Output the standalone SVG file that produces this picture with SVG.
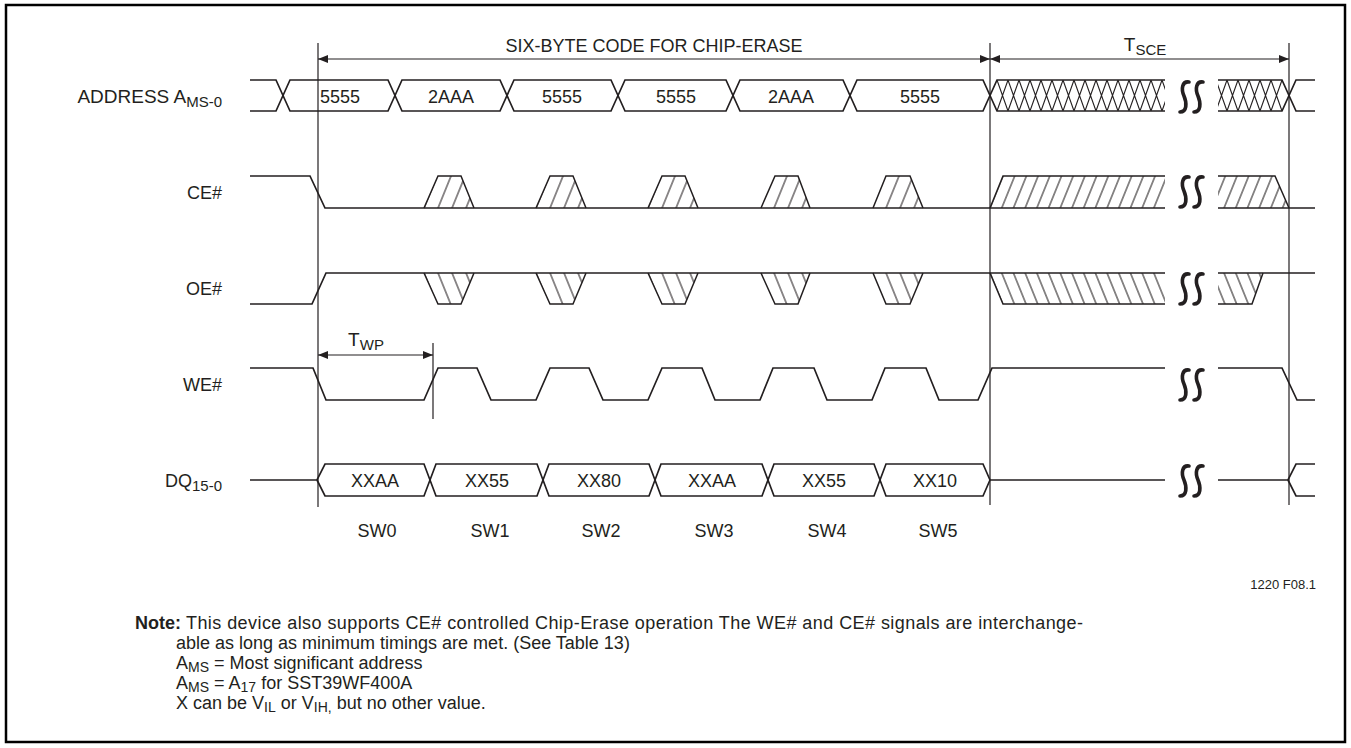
<svg xmlns="http://www.w3.org/2000/svg" width="1351" height="748" viewBox="0 0 1351 748">
<style>
text{font-family:"Liberation Sans",Arial,Helvetica,sans-serif;fill:#231f20}
.lbl{font-size:18px}
.sig{fill:none;stroke:#231f20;stroke-width:1.7;stroke-linejoin:miter}
.edge{fill:none;stroke:#231f20;stroke-width:1.5}
.vl{fill:none;stroke:#231f20;stroke-width:1.2}
.sq{fill:none;stroke:#231f20;stroke-width:3.6;stroke-linecap:round}
.note{font-size:18px}
</style>
<defs>
<marker id="ah" viewBox="0 0 10 8" refX="10" refY="4" markerWidth="10" markerHeight="8" markerUnits="userSpaceOnUse" orient="auto-start-reverse">
<path d="M0,0 L10,4 L0,8 Z" fill="#231f20"/>
</marker>
<pattern id="xh" patternUnits="userSpaceOnUse" x="997" y="80" width="11" height="31">
<path d="M0,0 L11,31 M0,31 L11,0" stroke="#231f20" stroke-width="1.1" fill="none"/>
</pattern>
<pattern id="xh2" patternUnits="userSpaceOnUse" x="1216" y="80" width="11" height="31">
<path d="M0,0 L11,31 M0,31 L11,0" stroke="#231f20" stroke-width="1.1" fill="none"/>
</pattern>
<pattern id="ceS" patternUnits="userSpaceOnUse" x="11.5" y="0" width="14" height="20" patternTransform="skewX(-22.1)">
<path d="M7,-1 V21" stroke="#231f20" stroke-width="1.1"/>
</pattern>
<pattern id="ceL" patternUnits="userSpaceOnUse" x="3.95" y="0" width="11.7" height="20" patternTransform="skewX(-22.1)">
<path d="M5.85,-1 V21" stroke="#231f20" stroke-width="1.1"/>
</pattern>
<pattern id="oeS" patternUnits="userSpaceOnUse" x="12.2" y="0" width="14" height="20" patternTransform="skewX(22.1)">
<path d="M7,-1 V21" stroke="#231f20" stroke-width="1.1"/>
</pattern>
<pattern id="oeL" patternUnits="userSpaceOnUse" x="7.55" y="0" width="11.7" height="20" patternTransform="skewX(22.1)">
<path d="M5.85,-1 V21" stroke="#231f20" stroke-width="1.1"/>
</pattern>
<g id="brk">
<path class="sq" d="M10,1 C3,0 2,8 5,15 C8,22 8,31 1,31"/>
<path class="sq" d="M24,1 C17,0 16,8 19,15 C22,22 22,31 15,31"/>
</g>
</defs>
<rect x="0" y="0" width="1351" height="748" fill="#fff"/>
<rect x="6" y="5" width="1339" height="737" fill="none" stroke="#000" stroke-width="2.5"/>

<g id="connectors">
<line class="vl" x1="318" y1="43" x2="318" y2="507"/>
<line class="vl" x1="990" y1="43" x2="990" y2="505"/>
<line class="vl" x1="1289" y1="43" x2="1289" y2="505"/>
<line class="vl" x1="433" y1="343" x2="433" y2="419"/>
<line class="vl" x1="318" y1="59" x2="990" y2="59" marker-start="url(#ah)" marker-end="url(#ah)"/>
<line class="vl" x1="990" y1="59" x2="1289" y2="59" marker-start="url(#ah)" marker-end="url(#ah)"/>
<line class="vl" x1="318" y1="355" x2="433" y2="355" marker-start="url(#ah)" marker-end="url(#ah)"/>
</g>

<g id="timing-labels">
<text class="lbl" x="654" y="52" text-anchor="middle">SIX-BYTE CODE FOR CHIP-ERASE</text>
<text x="1145" y="51" text-anchor="middle" font-size="19">T<tspan font-size="15" dy="4">SCE</tspan></text>
<text x="366" y="346" text-anchor="middle" font-size="19">T<tspan font-size="15" dy="4">WP</tspan></text>
</g>

<g id="address">
<text x="222" y="103" text-anchor="end" font-size="19">ADDRESS A<tspan font-size="15" dy="4">MS-0</tspan></text>
<path class="sig" d="M250,80 L276,80 L290,111 L388,111 L402,80 L500,80 L514,111 L611,111 L625,80 L726,80 L740,111 L843,111 L857,80 L983,80 L997,111 L1165,111"/>
<path class="sig" d="M250,111 L276,111 L290,80 L388,80 L402,111 L500,111 L514,80 L611,80 L625,111 L726,111 L740,80 L843,80 L857,111 L983,111 L997,80 L1165,80"/>
<rect x="997" y="80" width="168" height="31" fill="url(#xh)"/>
<path class="sig" d="M1218,80 L1282,80 L1296,111 L1315,111 M1218,111 L1282,111 L1296,80 L1315,80"/>
<rect x="1218" y="80" width="64" height="31" fill="url(#xh2)"/>
<use href="#brk" x="1179" y="81"/>
<text class="lbl" x="320" y="103">5555</text>
<text class="lbl" x="451" y="103" text-anchor="middle">2AAA</text>
<text class="lbl" x="562" y="103" text-anchor="middle">5555</text>
<text class="lbl" x="676" y="103" text-anchor="middle">5555</text>
<text class="lbl" x="791" y="103" text-anchor="middle">2AAA</text>
<text class="lbl" x="920" y="103" text-anchor="middle">5555</text>
</g>

<g id="ce">
<text class="lbl" x="222" y="199" text-anchor="end">CE#</text>
<polygon points="424,208 438,176 461,176 474,208" fill="url(#ceS)"/>
<polygon points="536,208 550,176 573,176 586,208" fill="url(#ceS)"/>
<polygon points="648,208 662,176 685,176 698,208" fill="url(#ceS)"/>
<polygon points="761,208 775,176 798,176 810,208" fill="url(#ceS)"/>
<polygon points="873,208 886,176 910,176 923,208" fill="url(#ceS)"/>
<polygon points="990,208 1003,176 1165,176 1165,208" fill="url(#ceL)"/>
<polygon points="1218,208 1218,176 1275,176 1289,208" fill="url(#ceL)"/>
<path class="sig" d="M250,176 L310,176 L325,208 L1165,208 M1218,208 L1315,208"/>
<path class="edge" d="M424,208 L438,176 L461,176 L474,208 M536,208 L550,176 L573,176 L586,208 M648,208 L662,176 L685,176 L698,208 M761,208 L775,176 L798,176 L810,208 M873,208 L886,176 L910,176 L923,208 M990,208 L1003,176 L1165,176 M1218,176 L1275,176 L1289,208"/>
<use href="#brk" x="1179" y="176"/>
</g>

<g id="oe">
<text class="lbl" x="222" y="295" text-anchor="end">OE#</text>
<polygon points="424,273 438,304 461,304 474,273" fill="url(#oeS)"/>
<polygon points="536,273 550,304 573,304 586,273" fill="url(#oeS)"/>
<polygon points="648,273 662,304 685,304 698,273" fill="url(#oeS)"/>
<polygon points="761,273 775,304 798,304 810,273" fill="url(#oeS)"/>
<polygon points="873,273 886,304 910,304 923,273" fill="url(#oeS)"/>
<polygon points="990,273 1165,273 1165,304 1003,304" fill="url(#oeL)"/>
<polygon points="1218,273 1263,273 1252,304 1218,304" fill="url(#oeL)"/>
<path class="sig" d="M250,304 L312,304 L326,273 L1165,273 M1218,273 L1315,273"/>
<path class="edge" d="M424,273 L438,304 L461,304 L474,273 M536,273 L550,304 L573,304 L586,273 M648,273 L662,304 L685,304 L698,273 M761,273 L775,304 L798,304 L810,273 M873,273 L886,304 L910,304 L923,273 M990,273 L1003,304 L1165,304 M1218,304 L1252,304 L1263,273"/>
<use href="#brk" x="1179" y="273"/>
</g>

<g id="we">
<text class="lbl" x="222" y="391" text-anchor="end">WE#</text>
<path class="sig" d="M250,368 L313,368 L326,400 L424,400 L438,368 L477,368 L491,400 L536,400 L550,368 L589,368 L603,400 L648,400 L662,368 L702,368 L715,400 L760,400 L773,368 L814,368 L827,400 L872,400 L885,368 L926,368 L939,400 L978,400 L992,368 L1165,368 M1218,368 L1282,368 L1297,400 L1315,400"/>
<use href="#brk" x="1179" y="369"/>
</g>

<g id="dq">
<text class="lbl" x="222" y="487" text-anchor="end">DQ<tspan font-size="15" dy="4">15-0</tspan></text>
<path class="sig" d="M250,480 L317,480 L325,464 L424,464 L436,496 L537,496 L549,464 L649,464 L661,496 L762,496 L774,464 L874,464 L886,496 L983,496 L990,480 L1165,480"/>
<path class="sig" d="M317,480 L325,496 L424,496 L436,464 L537,464 L549,496 L649,496 L661,464 L762,464 L774,496 L874,496 L886,464 L983,464 L990,480"/>
<path class="sig" d="M1218,480 L1288,480 L1296,464 L1315,464 M1288,480 L1296,496 L1315,496"/>
<use href="#brk" x="1179" y="465"/>
<text class="lbl" x="375" y="487" text-anchor="middle">XXAA</text>
<text class="lbl" x="487" y="487" text-anchor="middle">XX55</text>
<text class="lbl" x="599" y="487" text-anchor="middle">XX80</text>
<text class="lbl" x="712" y="487" text-anchor="middle">XXAA</text>
<text class="lbl" x="824" y="487" text-anchor="middle">XX55</text>
<text class="lbl" x="935" y="487" text-anchor="middle">XX10</text>
</g>

<g id="steps">
<text class="lbl" x="377" y="537" text-anchor="middle">SW0</text>
<text class="lbl" x="490" y="537" text-anchor="middle">SW1</text>
<text class="lbl" x="601" y="537" text-anchor="middle">SW2</text>
<text class="lbl" x="714" y="537" text-anchor="middle">SW3</text>
<text class="lbl" x="827" y="537" text-anchor="middle">SW4</text>
<text class="lbl" x="938" y="537" text-anchor="middle">SW5</text>
<text x="1316" y="589" text-anchor="end" font-size="13">1220 F08.1</text>
</g>

<g id="note">
<text class="note" x="135" y="629" font-weight="bold">Note:</text>
<text class="note" x="186" y="629" textLength="897" lengthAdjust="spacing">This device also supports CE# controlled Chip-Erase operation The WE# and CE# signals are interchange-</text>
<text class="note" x="176" y="649">able as long as minimum timings are met. (See Table 13)</text>
<text class="note" x="176" y="669">A<tspan font-size="14" dy="3">MS</tspan><tspan dy="-3"> = Most significant address</tspan></text>
<text class="note" x="176" y="689">A<tspan font-size="14" dy="3">MS</tspan><tspan dy="-3"> = A</tspan><tspan font-size="14" dy="3">17</tspan><tspan dy="-3"> for SST39WF400A</tspan></text>
<text class="note" x="176" y="709">X can be V<tspan font-size="14" dy="3">IL</tspan><tspan dy="-3"> or V</tspan><tspan font-size="14" dy="3">IH,</tspan><tspan dy="-3"> but no other value.</tspan></text>
</g>
</svg>
